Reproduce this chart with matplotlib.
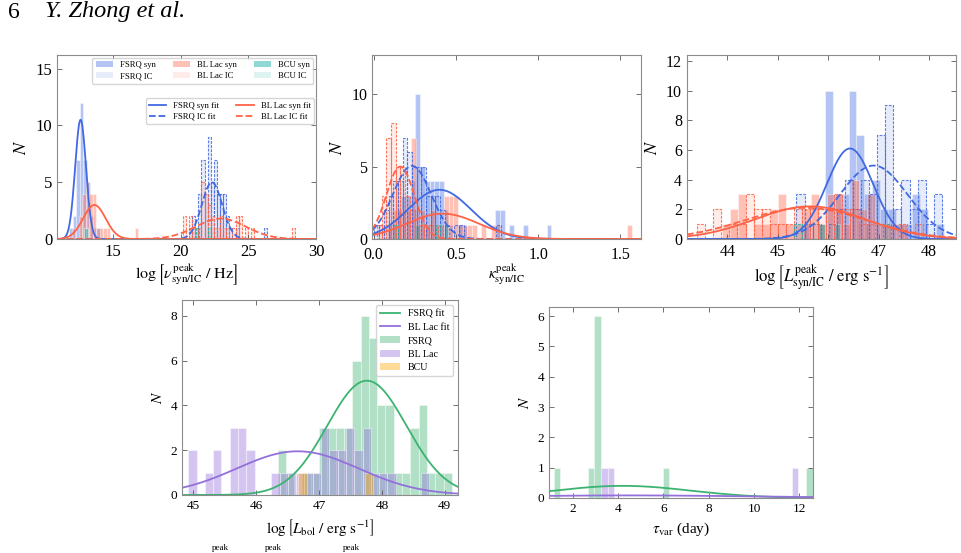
import numpy as np
import matplotlib
matplotlib.use('Agg')
import matplotlib.pyplot as plt
from matplotlib.colors import to_rgba
from matplotlib.patches import Patch
from matplotlib.lines import Line2D

plt.rcParams['font.family'] = ['Liberation Serif', 'DejaVu Serif']
plt.rcParams['mathtext.fontset'] = 'stix'

# ---- panel 1: log nu peak (start, bin width, counts)
nu_fsrq_syn = (11.75, 0.26, [1, 2, 7, 12, 7, 5, 2, 1, 1])
nu_bl_syn = (11.92, 0.26, [1, 0, 2, 4, 5, 4, 4, 1, 1, 1, 1] + [0] * 7 + [1])
nu_bcu_syn = (12.84, 0.26, [1])
nu_fsrq_ic = (20.6, 0.23, [1, 2, 1, 4, 7, 4, 9, 5, 7, 4, 4, 4, 2, 1, 0, 1] + [0] * 8 + [1])
nu_bl_ic = (20.14, 0.23, [2, 0, 2, 1, 1, 1, 5, 4, 3, 2, 1, 1, 2, 1, 1, 0, 1, 2, 2, 0, 1, 0, 1]
            + [0] * 12 + [1])
nu_bcu_ic = (21.1, 0.23, [1, 0, 0, 0, 1])
# gaussian fits: amplitude, mean, sigma
nu_fit_fsrq_syn = [10.5, 12.58, 0.40]
nu_fit_fsrq_ic = [5.0, 22.3, 0.75]
nu_fit_bl_syn = [3.0, 13.6, 0.83]
nu_fit_bl_ic = [1.8, 22.95, 1.85]

# ---- panel 2: kappa
k_fsrq_syn = (0.026, 0.0285, [0, 0, 1, 1, 2, 3, 3, 4, 10, 5, 4, 4, 4, 4, 2, 1, 0, 1, 1]
              + [0] * 6 + [2, 2, 0, 1, 0, 0, 1, 0, 0, 0, 0, 1])
k_bl_syn = (0.0, 0.0285, [0, 0, 0, 1, 2, 2, 2, 2, 7, 1, 2, 1, 2, 1, 1, 3, 3, 3, 1, 1, 1, 1, 0, 1, 0, 1, 1]
            + [0] * 27 + [1])
k_bcu_syn = (0.254, 0.0285, [1, 0, 0, 0, 0, 0, 1])
k_fsrq_ic = (0.005, 0.0285, [1, 1, 2, 3, 4, 4, 7, 6, 5, 5, 5, 3, 3, 3, 2, 1, 0, 1, 1]
             + [0] * 7 + [1])
k_bl_ic = (0.0205, 0.0285, [1, 3, 7, 8, 5, 5, 3, 2, 2, 1, 1, 1, 0, 1])
k_bcu_ic = (0.12, 0.0285, [1] + [0] * 8 + [1])
k_fit_fsrq_syn = [3.4, 0.40, 0.19]
k_fit_fsrq_ic = [5.05, 0.233, 0.117]
k_fit_bl_syn = [1.75, 0.42, 0.22]
k_fit_bl_ic = [5.0, 0.162, 0.085]

# ---- panel 3: log L peak
L_fsrq_syn = (45.302, 0.157, [0, 1, 0, 1, 10, 3, 3, 10, 7, 3, 4, 2, 2, 1, 1, 3, 2, 0, 1])
L_bl_syn = (43.89, 0.16, [1, 2, 3, 0, 1, 1, 2, 3, 1, 1, 2, 3, 1, 3, 3, 1, 4, 2, 3, 1, 1, 1, 1])
L_bcu_syn = (45.77, 0.157, [1, 0, 1])
L_fsrq_ic = (45.37, 0.16, [3, 1, 1, 0, 1, 2, 4, 2, 4, 3, 7, 9, 2, 4, 2, 4, 1, 3])
L_bl_ic = (43.4, 0.16, [1, 0, 2, 0, 1, 1, 3, 2, 2, 1, 1, 1, 2, 2, 2, 2, 2, 3, 2, 2, 1, 1, 0, 1, 0, 1, 0, 1])
L_bcu_ic = (45.32, 0.16, [1] + [0] * 10 + [1])
L_fit_fsrq_syn = [6.1, 46.43, 0.46]
L_fit_fsrq_ic = [4.95, 46.9, 0.67]
L_fit_bl_syn = [2.2, 45.64, 1.09]
L_fit_bl_ic = [2.1, 45.55, 1.2]

# ---- panel 4: log L_bol
bol_fsrq = (46.34, 0.132, [2, 1, 0, 1, 1, 3, 3, 3, 3, 6, 8, 7, 4, 4, 1, 1, 3, 4, 1, 1, 1])
bol_bl = (44.92, 0.132, [2, 0, 1, 2, 0, 3, 3, 2, 0, 0, 1, 1, 1, 1, 1, 1, 3, 2, 2, 3, 2, 3, 1, 1, 1, 0, 0, 0, 1])
bol_bcu = (46.67, 0.132, [1] + [0] * 7 + [1])
bol_fit_fsrq = [5.1, 47.76, 0.63]
bol_fit_bl = [1.95, 46.66, 0.97]

# ---- panel 5: tau_var
tau_width = 0.29
tau_fsrq_left = [1.15, 2.66, 2.95, 5.96, 12.29]
tau_fsrq_n = [1, 1, 6, 1, 1]
tau_bl_left = [3.25, 3.54, 11.67]
tau_bl_n = [1, 1, 1]
tau_fit_fsrq = [0.4, 4.2, 3.0]
tau_fit_bl = [0.085, 4.5, 5.5]

BLUE, RED, TEAL = 'royalblue', 'tomato', 'lightseagreen'
GREEN, PURPLE, ORANGE = 'mediumseagreen', 'mediumpurple', 'orange'


def gauss(x, amp, mu, sig):
    return amp * np.exp(-0.5 * ((x - mu) / sig) ** 2)


def draw_hist(ax, series, color, ic=False, alpha=0.4):
    start, width, counts = series
    counts = np.asarray(counts)
    lefts = start + width * np.arange(len(counts))
    keep = counts > 0
    if ic:
        ax.bar(lefts[keep], counts[keep], width=width, align='edge',
               facecolor=to_rgba(color, 0.12), edgecolor=to_rgba(color, 0.85),
               linestyle=(0, (2.5, 1.2)), linewidth=0.8)
    else:
        ax.bar(lefts[keep], counts[keep], width=width, align='edge',
               color=color, alpha=alpha, edgecolor='white', linewidth=0.8)


def fit_line(ax, params, color, ls='-'):
    x = np.linspace(*ax.get_xlim(), 500)
    ax.plot(x, gauss(x, *params), color=color, ls=ls, lw=1.3)


def style(ax, tick_size, n_size):
    ax.tick_params(direction='in', top=True, right=True, length=3.5, width=0.6,
                   labelsize=tick_size, color='0.35')
    for s in ax.spines.values():
        s.set_color('0.55')
        s.set_linewidth(0.8)
    ax.set_ylabel(r'$N$', fontsize=n_size)


fig = plt.figure(figsize=(9.62, 5.53), dpi=100)
ax1 = fig.add_axes([0.0593, 0.5678, 0.2692, 0.3327])
ax2 = fig.add_axes([0.3867, 0.5678, 0.2796, 0.3327])
ax3 = fig.add_axes([0.7141, 0.5678, 0.2796, 0.3327])
ax4 = fig.add_axes([0.1892, 0.1049, 0.2869, 0.3526])
ax5 = fig.add_axes([0.5707, 0.0995, 0.2744, 0.3454])

# panel 1
ax1.set_xlim(10.84, 30)
ax1.set_ylim(0, 16.2)
draw_hist(ax1, nu_fsrq_syn, BLUE)
draw_hist(ax1, nu_bl_syn, RED)
draw_hist(ax1, nu_bcu_syn, TEAL, alpha=0.5)
draw_hist(ax1, nu_fsrq_ic, BLUE, ic=True)
draw_hist(ax1, nu_bl_ic, RED, ic=True)
draw_hist(ax1, nu_bcu_ic, TEAL, ic=True)
fit_line(ax1, nu_fit_fsrq_syn, BLUE)
fit_line(ax1, nu_fit_fsrq_ic, BLUE, '--')
fit_line(ax1, nu_fit_bl_syn, RED)
fit_line(ax1, nu_fit_bl_ic, RED, '--')
ax1.set_xticks([15, 20, 25, 30])
ax1.set_yticks([0, 5, 10, 15])
ax1.set_xlabel(r'$\log\left[\nu_{\rm syn/IC}^{\rm peak}\ /\ {\rm Hz}\right]$', fontsize=11.5,
               labelpad=2)
style(ax1, 12, 13)

bar_handles = [Patch(facecolor=BLUE, alpha=0.4), Patch(facecolor=to_rgba(BLUE, 0.12)),
               Patch(facecolor=RED, alpha=0.4), Patch(facecolor=to_rgba(RED, 0.12)),
               Patch(facecolor=TEAL, alpha=0.5), Patch(facecolor=to_rgba(TEAL, 0.15))]
bar_labels = ['FSRQ syn', 'FSRQ IC', 'BL Lac syn', 'BL Lac IC', 'BCU syn', 'BCU IC']
leg1 = ax1.legend(bar_handles, bar_labels, ncol=3, fontsize=6.2, loc='upper right',
                  labelspacing=0.35, borderaxespad=0.3, columnspacing=2.0)
ax1.add_artist(leg1)
line_handles = [Line2D([], [], color=BLUE, lw=1.3), Line2D([], [], color=BLUE, lw=1.3, ls='--'),
                Line2D([], [], color=RED, lw=1.3), Line2D([], [], color=RED, lw=1.3, ls='--')]
line_labels = ['FSRQ syn fit', 'FSRQ IC fit', 'BL Lac syn fit', 'BL Lac IC fit']
ax1.legend(line_handles, line_labels, ncol=2, fontsize=6.2, loc='upper right',
           bbox_to_anchor=(0.992, 0.765), borderaxespad=0, labelspacing=0.35,
           columnspacing=2.0)

# panel 2
ax2.set_xlim(-0.01, 1.625)
ax2.set_ylim(0, 12.7)
draw_hist(ax2, k_fsrq_syn, BLUE)
draw_hist(ax2, k_bl_syn, RED)
draw_hist(ax2, k_bcu_syn, TEAL, alpha=0.5)
draw_hist(ax2, k_fsrq_ic, BLUE, ic=True)
draw_hist(ax2, k_bl_ic, RED, ic=True)
draw_hist(ax2, k_bcu_ic, TEAL, ic=True)
fit_line(ax2, k_fit_fsrq_syn, BLUE)
fit_line(ax2, k_fit_fsrq_ic, BLUE, '--')
fit_line(ax2, k_fit_bl_syn, RED)
fit_line(ax2, k_fit_bl_ic, RED, '--')
ax2.set_xticks([0.0, 0.5, 1.0, 1.5])
ax2.set_yticks([0, 5, 10])
ax2.set_xlabel(r'$\kappa_{\rm syn/IC}^{\rm peak}$', fontsize=11, labelpad=0)
style(ax2, 11.5, 13)
ax2.tick_params(axis='x', pad=5.5)

# panel 3
ax3.set_xlim(43.2, 48.53)
ax3.set_ylim(0, 12.4)
draw_hist(ax3, L_fsrq_syn, BLUE)
draw_hist(ax3, L_bl_syn, RED)
draw_hist(ax3, L_bcu_syn, TEAL, alpha=0.5)
draw_hist(ax3, L_fsrq_ic, BLUE, ic=True)
draw_hist(ax3, L_bl_ic, RED, ic=True)
draw_hist(ax3, L_bcu_ic, TEAL, ic=True)
fit_line(ax3, L_fit_fsrq_syn, BLUE)
fit_line(ax3, L_fit_fsrq_ic, BLUE, '--')
fit_line(ax3, L_fit_bl_syn, RED)
fit_line(ax3, L_fit_bl_ic, RED, '--')
ax3.set_xticks([44, 45, 46, 47, 48])
ax3.set_yticks([0, 2, 4, 6, 8, 10, 12])
ax3.set_xlabel(r'$\log\left[L_{\rm syn/IC}^{\rm peak}\ /\ {\rm erg\ s^{-1}}\right]$', fontsize=12,
               labelpad=2)
style(ax3, 11.5, 13)

# panel 4
ax4.set_xlim(44.82, 49.21)
ax4.set_ylim(0, 8.7)
fit_line(ax4, bol_fit_fsrq, GREEN)
fit_line(ax4, bol_fit_bl, PURPLE)
draw_hist(ax4, bol_fsrq, GREEN)
draw_hist(ax4, bol_bl, PURPLE)
draw_hist(ax4, bol_bcu, ORANGE)
ax4.set_xticks([45, 46, 47, 48, 49])
ax4.set_yticks([0, 2, 4, 6, 8])
ax4.set_xlabel(r'$\log\left[L_{\rm bol}\ /\ {\rm erg\ s^{-1}}\right]$', fontsize=11)
style(ax4, 9.5, 11)
h4 = [Line2D([], [], color=GREEN, lw=1.3), Line2D([], [], color=PURPLE, lw=1.3),
      Patch(facecolor=GREEN, alpha=0.4), Patch(facecolor=PURPLE, alpha=0.4),
      Patch(facecolor=ORANGE, alpha=0.4)]
ax4.legend(h4, ['FSRQ fit', 'BL Lac fit', 'FSRQ', 'BL Lac', 'BCU'], fontsize=7.2,
           loc='upper right', borderaxespad=0.5, labelspacing=0.45)

# panel 5
ax5.set_xlim(0.95, 12.6)
ax5.set_ylim(0, 6.3)
ax5.bar(tau_fsrq_left, tau_fsrq_n, width=tau_width, align='edge', color=GREEN,
        alpha=0.4, edgecolor='white', linewidth=0.8)
ax5.bar(tau_bl_left, tau_bl_n, width=tau_width, align='edge', color=PURPLE,
        alpha=0.4, edgecolor='white', linewidth=0.8)
fit_line(ax5, tau_fit_fsrq, GREEN)
fit_line(ax5, tau_fit_bl, PURPLE)
ax5.set_xticks([2, 4, 6, 8, 10, 12])
ax5.set_yticks([0, 1, 2, 3, 4, 5, 6])
ax5.set_xlabel(r'$\tau_{\rm var}$ (day)', fontsize=11)
style(ax5, 9.5, 11)

# page header and caption fragments
fig.text(8 / 962, 1 - 12 / 553, '6', fontsize=17, va='center')
fig.text(45 / 962, 1 - 12 / 553, 'Y. Zhong et al.', fontsize=17.5, va='center', style='italic')
for xp in [212, 265, 343]:
    fig.text(xp / 962, 1 - 552 / 553, 'peak', fontsize=6.5, va='bottom')

fig.savefig('out.png', dpi=100)
